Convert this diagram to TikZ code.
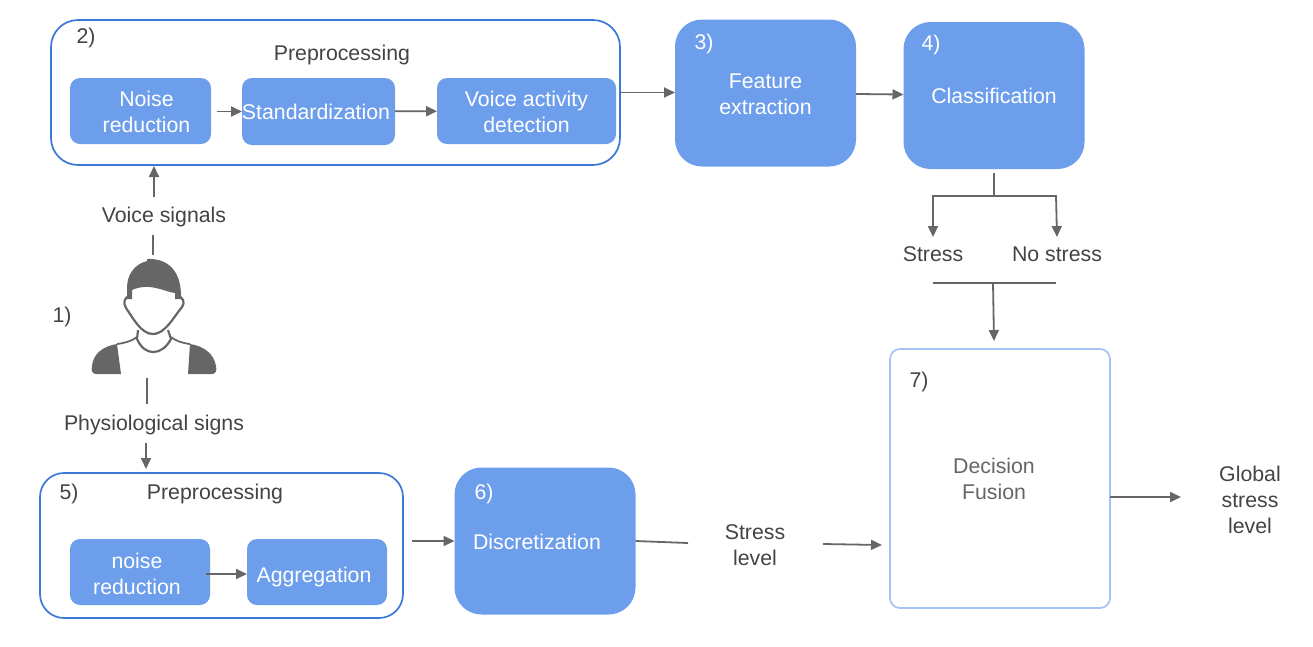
\documentclass[tikz,border=0pt]{standalone}
\usepackage{fontspec}
\setmainfont{Liberation Sans}
\usetikzlibrary{arrows.meta}
\definecolor{boxblue}{HTML}{6D9EEB}
\definecolor{edgeblue}{HTML}{3C78D8}
\definecolor{paleblue}{HTML}{A4C2F4}
\definecolor{inkgrey}{HTML}{434343}
\definecolor{linegrey}{HTML}{666666}
\begin{document}
\begin{tikzpicture}
[x=1pt,y=-1pt,
every node/.style={font=\fontsize{21.3}{26}\selectfont,text=inkgrey,align=center,inner sep=0pt,outer sep=0pt},
bluebox/.style={fill=boxblue,draw=none,text=white,rounded corners=10pt},
bigbox/.style={bluebox,rounded corners=27pt,minimum width=181pt,minimum height=147pt},
framebox/.style={draw=edgeblue,line width=1.7pt,fill=white,rounded corners=27pt},
line/.style={draw=linegrey,line width=1.8pt},
arr/.style={line,-{Triangle[length=11pt,width=10pt]}}]
\useasboundingbox (0,0) rectangle (1313,646);
% preprocessing of the voice
\node[framebox,minimum width=569pt,minimum height=145pt] (prepvoice) at (335.5,92.5) {};
\node (two) at (86,38) {2)};
\node (preptop) at (342,55) {Preprocessing};
\node[bluebox,minimum width=141pt,minimum height=66pt] (noise) at (140.5,111) {\rule{0pt}{18pt}\hspace*{12pt}Noise\\\hspace*{12pt}reduction};
\node[bluebox,minimum width=153pt,minimum height=67pt] (standard) at (318.5,111.5) {\hspace*{-5pt}Standardization};
\node[bluebox,minimum width=179pt,minimum height=66pt] (activity) at (526.5,111) {\rule{0pt}{18pt}Voice activity\\detection};
% top row
\node[bigbox] (feature) at (765.5,93) {\rule{0pt}{18pt}Feature\\extraction};
\node (three) at (704,44) [text=white] {3)};
\node[bigbox] (classif) at (994,95.5) {Classification};
\node (four) at (931,45) [text=white] {4)};
\node (stress) at (933,254) {Stress};
\node (nostress) at (1057,254) {No stress};
% person
\node[minimum width=124pt,minimum height=119pt] (person) at (154,314.5) {};
\node (one) at (62,317) {1)};
\draw[linegrey,line width=2.2pt,fill=white] (130,296) .. controls (124,297) and (123,303) .. (126,308) .. controls (133,318) and (141,334) .. (153,334) .. controls (165,334) and (173,318) .. (182,307) .. controls (185,303) and (184,297) .. (177,296);
\fill[linegrey] (127,299) -- (127,288) .. controls (127,274) and (135,264) .. (147,261) -- (147,259) .. controls (167,258) and (182,270) .. (181,299) -- (175,299) -- (175,293) .. controls (165,292) and (150,282) .. (132,290) -- (132,299) -- cycle;
\draw[linegrey,line width=2.2pt] (138,330) -- (137,339) .. controls (141,348) and (147,352) .. (153,352) .. controls (160,352) and (166,348) .. (171,339) -- (168,330);
\draw[linegrey,line width=1.8pt] (117,344) .. controls (125,343) and (132,341) .. (137,337);
\draw[linegrey,line width=1.8pt] (190,344) .. controls (182,343) and (176,341) .. (171,337);
\fill[linegrey] (117,344) -- (121,374) -- (96,374) .. controls (92,374) and (91,370) .. (92,366) .. controls (93,354) and (103,346) .. (117,344) -- cycle;
\fill[linegrey] (190,344) -- (188,374) -- (212,374) .. controls (216,374) and (217,370) .. (216,366) .. controls (214,354) and (204,346) .. (190,344) -- cycle;
\node (voicesig) at (164,217) {Voice signals};
\node (physio) at (154,425) {Physiological signs};
% preprocessing of the signs
\node[framebox,rounded corners=24pt,minimum width=363pt,minimum height=145pt] (prepsigns) at (221.5,545.5) {};
\node (five) at (69,494) {5)};
\node (prepbot) at (215,494) {Preprocessing};
\node[bluebox,minimum width=140pt,minimum height=66pt] (noisetwo) at (140,572) {\rule{0pt}{20pt}\hspace*{-6pt}noise\\\hspace*{-6pt}reduction};
\node[bluebox,minimum width=140pt,minimum height=66pt] (aggreg) at (317,572) {\raisebox{-10pt}[0pt][0pt]{\hspace*{-6pt}Aggregation}};
\node[bigbox] (discrete) at (545,541) {\raisebox{-8pt}[0pt][0pt]{\hspace*{-16pt}Discretization}};
\node (six) at (484,494) [text=white] {6)};
\node (level) at (755,545) {Stress\\level};
% fusion
\node[draw=paleblue,line width=1.7pt,fill=white,rounded corners=10pt,minimum width=220pt,minimum height=259pt,text=linegrey] (fusion) at (1000,478.5) {\rule{0pt}{17pt}\hspace*{-12pt}Decision\\\hspace*{-12pt}Fusion};
\node (seven) at (919,382) {7)};
\node (globalst) at (1250,500) {Global\\stress\\level};
% free ends of the connectors
\coordinate (voiceup) at (153,235);
\coordinate (voicelow) at (154,197);
\coordinate (voicein) at (154,166);
\coordinate (physiotop) at (147,378);
\coordinate (physiomid) at (147,404);
\coordinate (physiolow) at (146,443);
\coordinate (physioin) at (146,469);
\coordinate (signsout) at (412,541);
\coordinate (levelleft) at (688,543);
\coordinate (levelright) at (823,544);
\coordinate (fusionin) at (882,545);
\coordinate (globalin) at (1181,497);
\coordinate (branchtop) at (994,173);
\coordinate (branchmid) at (994,196);
\coordinate (branchleft) at (933,196);
\coordinate (branchright) at (1056,196);
\coordinate (stressin) at (933,237);
\coordinate (nostressin) at (1057,237);
\coordinate (barleft) at (933,283);
\coordinate (barright) at (1056,283);
\coordinate (barmid) at (993,283);
\coordinate (fusiontop) at (994,341);
\coordinate (noiseout) at (217,111.5);
\coordinate (noisetwoout) at (206,574);
\coordinate (aggregin) at (247,574);
% connectors
\draw[arr] (noiseout) -- (standard.west |- noiseout);
\draw[arr] (standard) -- (activity);
\draw[arr] (prepvoice.east) -- (feature.west |- prepvoice.east);
\draw[arr] (feature) -- (classif);
\draw[line] (branchtop) -- (branchmid);
\draw[arr] (branchmid) -- (branchleft) -- (stressin);
\draw[arr] (branchmid) -- (branchright) -- (nostressin);
\draw[line] (barleft) -- (barright);
\draw[arr] (barmid) -- (fusiontop);
\draw[line] (person.north -| voiceup) -- (voiceup);
\draw[arr] (voicelow) -- (voicein);
\draw[line] (physiotop) -- (physiomid);
\draw[arr] (physiolow) -- (physioin);
\draw[arr] (signsout) -- (discrete.west |- signsout);
\draw[arr] (noisetwoout) -- (aggregin);
\draw[line] (discrete.east) -- (levelleft);
\draw[arr] (levelright) -- (fusionin);
\draw[arr] (fusion.east |- globalin) -- (globalin);
\end{tikzpicture}
\end{document}
